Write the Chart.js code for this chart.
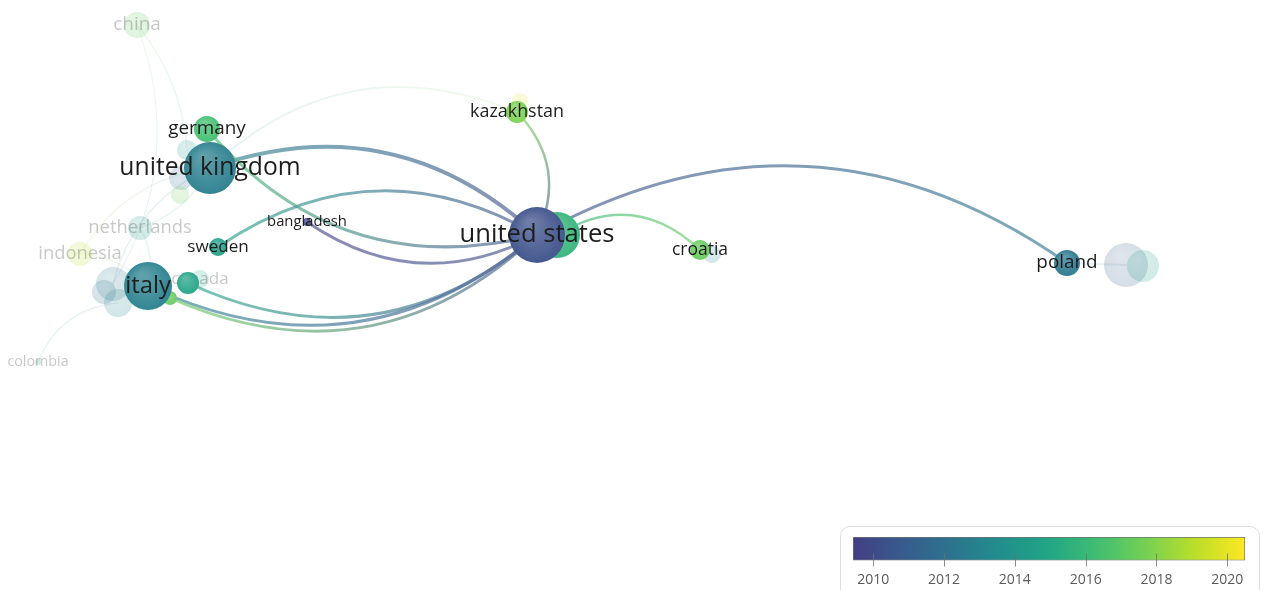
<!DOCTYPE html>
<html>
<head>
<meta charset="utf-8">
<script src="https://cdn.jsdelivr.net/npm/chart.js@4.4.1/dist/chart.umd.min.js"></script>
<style>
  html, body { margin: 0; padding: 0; background: #fff; overflow: hidden; }
  #wrap { position: relative; width: 1264px; height: 590px; }
  #net { position: absolute; left: 0; top: 0; }
  #legendBox {
    position: absolute; left: 840px; top: 526px; width: 418px; height: 90px;
    border: 1px solid #dcdcdc; border-radius: 10px; background: #fff;
  }
</style>
</head>
<body>
<div id="wrap">
  <canvas id="net" width="1264" height="590"></canvas>
  <div id="legendBox"><canvas id="bar" width="418" height="64"></canvas></div>
</div>
<script>
/* Country co-authorship overlay map (VOSviewer style) drawn with Chart.js.
   Nodes = bubble points on a 1264x590 map space; links = curved strokes
   drawn by a plugin through the chart's x/y scales. */

// ---- data ---------------------------------------------------------------
const nodeIds = [
  "china", "uk-a", "uk-b", "uk-c", "netherlands", "indonesia", "it-a", "it-b", "it-c",
  "colombia", "hr-a", "pl-a", "pl-b", "kz-a", "canada",
  "germany", "us-b", "ca-b", "it-d", "united kingdom", "italy", "sweden",
  "bangladesh", "kazakhstan", "croatia", "poland", "united states",
];
const nodeLabels = [
  "china", "", "", "", "netherlands", "indonesia", "", "", "",
  "colombia", "", "", "", "", "canada",
  "germany", "", "", "", "united kingdom", "italy", "sweden",
  "bangladesh", "kazakhstan", "croatia", "poland", "united states",
];
const nodeX = [137, 187, 181, 180, 140, 80, 113, 118, 104, 38, 712, 1126, 1143, 520, 200,
  207, 557, 188, 170, 210, 148, 218, 307, 517, 700, 1067, 537];
const nodeY = [25, 150, 178, 195, 228, 254, 284, 303, 292, 362, 254, 265, 266, 101, 279,
  129, 235, 283, 298, 168, 286, 247, 222, 112, 250, 263, 235];
const nodeWeight = [13, 10, 12, 9, 12, 12, 17, 14, 12, 3, 9, 22, 16, 8, 9,
  13, 23, 11, 7, 26, 24, 9, 4, 11, 10, 13, 28];
const nodeYear = [2017.2, 2014.0, 2012.0, 2017.5, 2014.2, 2019.0, 2012.5, 2013.0, 2012.0,
  2015.0, 2013.0, 2011.0, 2014.5, 2020.0, 2015.0,
  2016.4, 2015.8, 2014.8, 2017.3, 2012.7, 2012.8, 2014.6, 2009.6, 2017.8, 2017.3, 2012.3, 2010.3];
const nodeFaded = [1, 1, 1, 1, 1, 1, 1, 1, 1, 1, 1, 1, 1, 1, 1,
  0, 0, 0, 0, 0, 0, 0, 0, 0, 0, 0, 0];

const edgeFrom = ["united kingdom", "germany", "sweden", "bangladesh", "ca-b", "italy", "it-d",
  "kazakhstan", "us-b", "united states",
  "united kingdom", "china", "indonesia", "indonesia", "netherlands", "netherlands",
  "colombia", "it-a", "hr-a", "poland", "kz-a", "china"];
const edgeTo = ["united states", "united states", "united states", "united states", "united states",
  "united states", "united states", "united states", "croatia", "poland",
  "kazakhstan", "uk-a", "united kingdom", "italy", "united kingdom", "italy",
  "it-b", "united kingdom", "croatia", "pl-a", "kazakhstan", "it-a"];
const edgeBend = [0.15, -0.155, 0.157, -0.15, -0.16, -0.16, -0.165, 0.17, 0.19, 0.156,
  0.16, 0.08, 0.12, 0.1, -0.1, 0.1, 0.15, 0.12, 0, 0, 0, 0.12];
const edgeStrength = [4, 3, 3, 3, 3, 3, 3, 2.5, 2.5, 3,
  2, 1.5, 1.5, 1.5, 1.5, 1.5, 1.5, 1.5, 1.5, 2, 1, 1.2];
const edgeFaded = [0, 0, 0, 0, 0, 0, 0, 0, 0, 0,
  1, 1, 1, 1, 1, 1, 1, 1, 1, 1, 1, 1];

const YEAR_MIN = 2009.43, YEAR_MAX = 2020.5;
const tickYears = [2010, 2012, 2014, 2016, 2018, 2020];

// ---- colour helpers -----------------------------------------------------
const VIRIDIS = ["#440154", "#482475", "#414487", "#355f8d", "#2a788e", "#21918c",
  "#22a884", "#44bf70", "#7ad151", "#bddf26", "#fde725"];
const hexRgb = (h) => [1, 3, 5].map((i) => parseInt(h.slice(i, i + 2), 16));
function viridis(t) {
  t = Math.max(0, Math.min(1, t));
  const s = t * 10, i = Math.min(9, Math.floor(s)), f = s - i;
  const a = hexRgb(VIRIDIS[i]), b = hexRgb(VIRIDIS[i + 1]);
  return a.map((v, k) => v + (b[k] - v) * f);
}
const yearColor = (y) => viridis(0.18 + 0.82 * (y - YEAR_MIN) / (YEAR_MAX - YEAR_MIN));
const mix = (c, d, f) => c.map((v, k) => v + (d[k] - v) * f);
const rgba = (c, a) => `rgba(${c.map(Math.round).join(",")},${a})`;
const WHITE = [255, 255, 255];
const FONT = '"Open Sans", "Noto Sans", sans-serif';

const idx = (id) => nodeIds.indexOf(id);
const labelSize = (w) => 13 + 0.45 * w;

function px(chart, i) {
  return [chart.scales.x.getPixelForValue(nodeX[i]), chart.scales.y.getPixelForValue(nodeY[i])];
}

function nodeFill(c) {
  if (c.type !== "data") return "#999";
  const i = c.raw.i, chart = c.chart;
  const base = yearColor(nodeYear[i]);
  const a = nodeFaded[i] ? 0.22 : 1;
  const [x, y] = px(chart, i);
  // scales have no pixel range yet while the bubble controller measures overflow
  if (!isFinite(x) || !isFinite(y)) return rgba(base, a);
  const r = nodeWeight[i];
  const g = chart.ctx.createRadialGradient(x - r * 0.25, y - r * 0.45, r * 0.1, x, y, r * 1.05);
  g.addColorStop(0, rgba(mix(base, WHITE, 0.26), a));
  g.addColorStop(1, rgba(mix(base, WHITE, 0.04), a));
  return g;
}

// links for one layer (0 = highlighted, 1 = faded) go under that layer's nodes,
// labels go on top of them
const linkPlugin = {
  id: "links",
  beforeDatasetDraw(chart, args) {
    const layer = chart.data.datasets[args.index].layer;
    const ctx = chart.ctx;
    ctx.save();
    ctx.lineCap = "round";
    edgeFrom.forEach((from, e) => {
      if (edgeFaded[e] !== layer) return;
      const a = idx(from), b = idx(edgeTo[e]);
      const [x1, y1] = px(chart, a), [x2, y2] = px(chart, b);
      const dx = x2 - x1, dy = y2 - y1;
      const cx = (x1 + x2) / 2 + 2 * edgeBend[e] * dy;
      const cy = (y1 + y2) / 2 - 2 * edgeBend[e] * dx;
      const alpha = layer ? 0.12 : 0.72;
      const g = ctx.createLinearGradient(x1, y1, x2, y2);
      g.addColorStop(0, rgba(mix(yearColor(nodeYear[a]), WHITE, 0.14), alpha));
      g.addColorStop(1, rgba(mix(yearColor(nodeYear[b]), WHITE, 0.14), alpha));
      ctx.strokeStyle = g;
      ctx.lineWidth = edgeStrength[e];
      ctx.beginPath();
      ctx.moveTo(x1, y1);
      ctx.quadraticCurveTo(cx, cy, x2, y2);
      ctx.stroke();
    });
    ctx.restore();
  },
  afterDatasetDraw(chart, args) {
    const ds = chart.data.datasets[args.index];
    const ctx = chart.ctx;
    ctx.save();
    ctx.textAlign = "center";
    ctx.textBaseline = "middle";
    ds.data.forEach((p) => {
      const i = p.i;
      if (!nodeLabels[i]) return;
      const [x, y] = px(chart, i);
      ctx.font = `${labelSize(nodeWeight[i]).toFixed(1)}px ${FONT}`;
      ctx.fillStyle = nodeFaded[i] ? "rgba(70,70,70,0.3)" : "#1d1d1d";
      ctx.fillText(nodeLabels[i], x, y);
    });
    ctx.restore();
  },
};

const layerData = (f) => nodeIds
  .map((id, i) => ({ x: nodeX[i], y: nodeY[i], r: nodeWeight[i], i }))
  .filter((p) => nodeFaded[p.i] === f);

new Chart(document.getElementById("net"), {
  type: "bubble",
  data: {
    datasets: [
      { layer: 1, order: 2, data: layerData(1), backgroundColor: nodeFill, borderWidth: 0, clip: false },
      { layer: 0, order: 1, data: layerData(0), backgroundColor: nodeFill, borderWidth: 0, clip: false },
    ],
  },
  options: {
    responsive: false,
    animation: false,
    events: [],
    layout: { padding: 0, autoPadding: false },
    scales: {
      x: { display: false, min: 0, max: 1264 },
      y: { display: false, min: 0, max: 590, reverse: true },
    },
    plugins: { legend: { display: false }, tooltip: { enabled: false } },
  },
  plugins: [linkPlugin],
});

// ---- colour bar legend ----------------------------------------------------
function barFill(c) {
  const area = c.chart.chartArea;
  if (!area) return "#888";
  const g = c.chart.ctx.createLinearGradient(area.left, 0, area.right, 0);
  for (let k = 0; k <= 20; k++) {
    g.addColorStop(k / 20, rgba(yearColor(YEAR_MIN + (k / 20) * (YEAR_MAX - YEAR_MIN)), 1));
  }
  return g;
}

const tickMarks = {
  id: "tickMarks",
  afterDatasetsDraw(chart) {
    const s = chart.scales.x, a = chart.chartArea, ctx = chart.ctx;
    ctx.save();
    ctx.strokeStyle = "rgba(110,110,110,0.8)";
    ctx.lineWidth = 1;
    tickYears.forEach((v) => {
      const x = Math.round(s.getPixelForValue(v)) + 0.5;
      ctx.beginPath();
      ctx.moveTo(x, a.bottom - 7);
      ctx.lineTo(x, a.bottom + 6);
      ctx.stroke();
    });
    ctx.restore();
  },
};

new Chart(document.getElementById("bar"), {
  type: "bar",
  data: {
    labels: ["avg. pub. year"],
    datasets: [{
      data: [[YEAR_MIN, YEAR_MAX]],
      backgroundColor: barFill,
      borderColor: "#707070",
      borderWidth: 1,
      borderSkipped: false,
      barPercentage: 1,
      categoryPercentage: 1,
    }],
  },
  options: {
    indexAxis: "y",
    responsive: false,
    animation: false,
    events: [],
    layout: { padding: { left: 12, right: 14, top: 10, bottom: 7 } },
    scales: {
      x: {
        type: "linear",
        min: YEAR_MIN,
        max: YEAR_MAX,
        afterBuildTicks: (s) => { s.ticks = tickYears.map((v) => ({ value: v })); },
        grid: { display: false, drawTicks: false },
        border: { display: false },
        ticks: {
          color: "#5a5a5a", padding: 11, font: { family: FONT, size: 14 },
          callback: (v) => String(v),
        },
      },
      y: { display: false },
    },
    plugins: { legend: { display: false }, tooltip: { enabled: false } },
  },
  plugins: [tickMarks],
});
</script>
</body>
</html>
